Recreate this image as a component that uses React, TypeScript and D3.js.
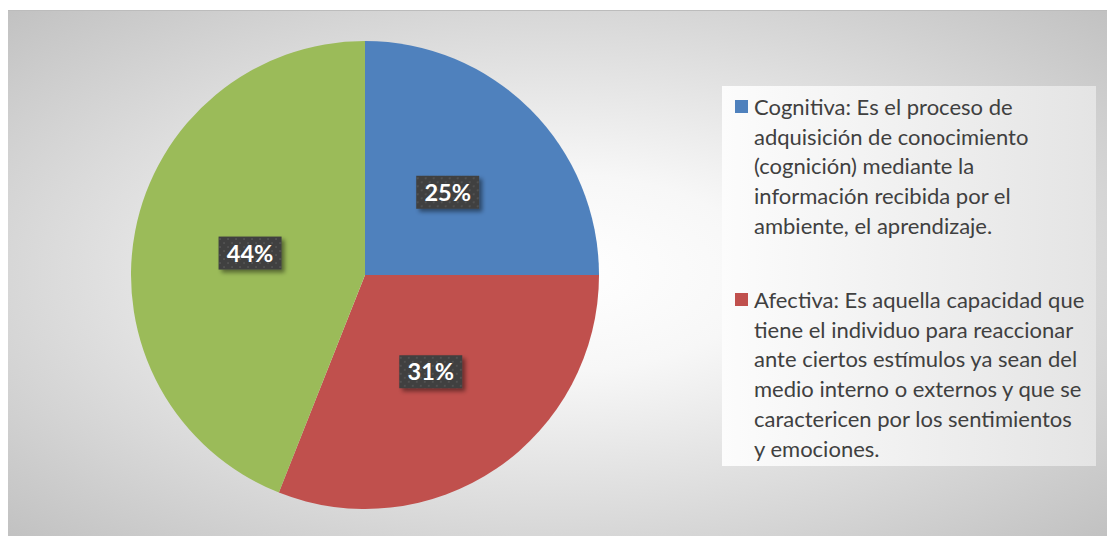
import React from "react";
import * as d3 from "d3";

const categories = ["Cognitiva", "Afectiva", "Emocional"];
const values = [25, 31, 44];
const labels = ["25%", "31%", "44%"];
const colors = ["#4f81bd", "#c0504d", "#9bbb59"];
const legendLines: string[][] = [
  [
    "Cognitiva: Es el proceso de",
    "adquisición de conocimiento",
    "(cognición) mediante la",
    "información recibida por el",
    "ambiente, el aprendizaje.",
  ],
  [
    "Afectiva: Es aquella capacidad que",
    "tiene el individuo para reaccionar",
    "ante ciertos estímulos ya sean del",
    "medio interno o externos y que se",
    "caractericen por los sentimientos",
    "y emociones.",
  ],
];

const W = 1107;
const H = 536;

export default function App() {
  const cx = 365;
  const cy = 275;
  const R = 234;
  const pie = d3.pie<number>().sort(null).value((d) => d);
  const arcs = pie(values);
  const arc = d3.arc<d3.PieArcDatum<number>>().innerRadius(0).outerRadius(R);
  const font = "Lato, 'Open Sans', sans-serif";

  const lx = 722;
  const ly = 86;
  const lw = 374;
  const lh = 380;
  const lineH = 29.8;
  const groupStarts = [107, 300];

  return (
    <div style={{ position: "absolute", left: 0, top: 0, width: W, height: H }}>
      <svg width={W} height={H} style={{ display: "block" }}>
        <defs>
          <radialGradient id="bg" cx="0.5" cy="0.5" r="0.75">
            <stop offset="0" stopColor="#ffffff" />
            <stop offset="0.25" stopColor="#f7f7f7" />
            <stop offset="1" stopColor="#bdbdbd" />
          </radialGradient>
          <linearGradient id="leg" x1="0" y1="0" x2="1" y2="0">
            <stop offset="0" stopColor="#fcfcfc" />
            <stop offset="1" stopColor="#e4e4e4" />
          </linearGradient>
          <pattern id="dots" width="8" height="8" patternUnits="userSpaceOnUse">
            <rect width="8" height="8" fill="#3f3f3f" />
            <circle cx="2" cy="2" r="1" fill="#575757" />
            <circle cx="6" cy="6" r="1" fill="#575757" />
          </pattern>
          <filter id="shadow" x="-20%" y="-20%" width="150%" height="160%">
            <feDropShadow dx="3" dy="3" stdDeviation="2" floodColor="#000" floodOpacity="0.45" />
          </filter>
        </defs>
        <rect x={0} y={0} width={W} height={H} fill="#ffffff" />
        <rect x={8} y={10} width={W - 8} height={H - 10} fill="url(#bg)" />
        <line x1={8} x2={W} y1={10.5} y2={10.5} stroke="#bcbcbc" strokeWidth={1} />
        <g transform={`translate(${cx},${cy})`}>
          {arcs.map((a, i) => (
            <path key={categories[i]} d={arc(a) || ""} fill={colors[i]} />
          ))}
          {arcs.map((a, i) => {
            const [x, y] = arc.centroid(a);
            const bw = 63;
            const bh = 33;
            return (
              <g key={"l" + i} transform={`translate(${x},${y})`}>
                <rect
                  x={-bw / 2}
                  y={-bh / 2}
                  width={bw}
                  height={bh}
                  fill="url(#dots)"
                  filter="url(#shadow)"
                />
                <text
                  x={0}
                  y={0}
                  dy="0.36em"
                  textAnchor="middle"
                  fill="#ffffff"
                  fontFamily={font}
                  fontWeight="bold"
                  fontSize={23.5}
                >
                  {labels[i]}
                </text>
              </g>
            );
          })}
        </g>
        <rect x={lx} y={ly} width={lw} height={lh} fill="url(#leg)" />
        {legendLines.map((lines, g) => (
          <g key={"g" + g}>
            <rect x={735} y={groupStarts[g] - 7} width={13} height={13} fill={colors[g]} />
            {lines.map((t, j) => (
              <text
                key={j}
                x={754}
                y={groupStarts[g] + j * lineH}
                dy="0.35em"
                fill="#404040"
                fontFamily={font}
                fontSize={22}
              >
                {t}
              </text>
            ))}
          </g>
        ))}
      </svg>
    </div>
  );
}
